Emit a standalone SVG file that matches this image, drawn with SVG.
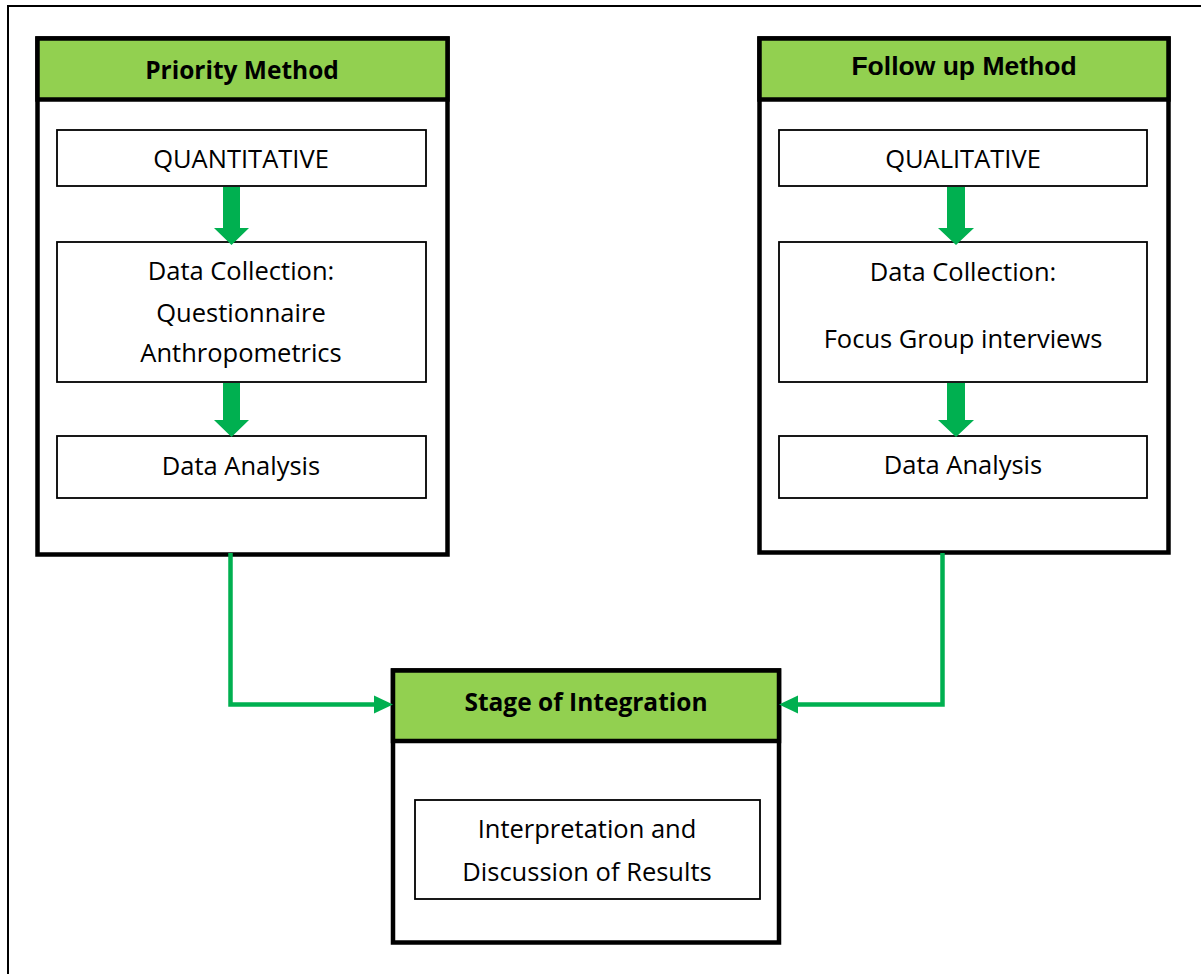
<svg xmlns="http://www.w3.org/2000/svg" width="1201" height="974" viewBox="0 0 1201 974">
<style>
.frame{fill:none;stroke:#000;stroke-width:2}
.box{fill:#fff;stroke:#000;stroke-width:4.5}
.hdr{fill:#92d050;stroke:#000;stroke-width:4.5}
.inner{fill:#fff;stroke:#000;stroke-width:1.8}
.t{font-family:"Open Sans",Lato,"Liberation Sans",sans-serif;font-size:25.5px;fill:#000;text-anchor:middle}
.tb{font-family:"Open Sans",Lato,"Liberation Sans",sans-serif;font-size:24.5px;font-weight:bold;fill:#000;text-anchor:middle}
.ta{font-family:"Liberation Sans",Arial,sans-serif;font-size:26.5px;font-weight:bold;fill:#000;text-anchor:middle}
.blk{fill:#00b050}
.conn{fill:none;stroke:#00b050;stroke-width:4.5}
</style>
<path class="frame" d="M8,974 V6 H1201"/>

<g id="priority">
<rect class="box" x="37.5" y="38.5" width="410" height="516"/>
<rect class="hdr" x="37.5" y="38.5" width="410" height="61"/>
<text class="tb" x="242" y="79">Priority Method</text>
<rect class="inner" x="57" y="130" width="369" height="56"/>
<text class="t" x="241" y="168">QUANTITATIVE</text>
<rect class="inner" x="57" y="242" width="369" height="140"/>
<text class="t" x="241" y="280">Data Collection:</text>
<text class="t" x="241" y="322">Questionnaire</text>
<text class="t" x="241" y="362">Anthropometrics</text>
<rect class="inner" x="57" y="436" width="369" height="62"/>
<text class="t" x="241" y="475">Data Analysis</text>
<path class="blk" d="M223,187 H240 V228 H249 L231.5,245 L214,228 H223 z"/>
<path class="blk" d="M223,383 H240 V420 H249 L231.5,437 L214,420 H223 z"/>
</g>

<g id="followup">
<rect class="box" x="759.5" y="38.5" width="409" height="514"/>
<rect class="hdr" x="759.5" y="38.5" width="409" height="61"/>
<text class="ta" x="964" y="75">Follow up Method</text>
<rect class="inner" x="779" y="130" width="368" height="56"/>
<text class="t" x="963" y="168">QUALITATIVE</text>
<rect class="inner" x="779" y="242" width="368" height="140"/>
<text class="t" x="963" y="281">Data Collection:</text>
<text class="t" x="963" y="348">Focus Group interviews</text>
<rect class="inner" x="779" y="436" width="368" height="62"/>
<text class="t" x="963" y="474">Data Analysis</text>
<path class="blk" d="M947,187 H965 V228 H974 L956,245 L938,228 H947 z"/>
<path class="blk" d="M947,383 H965 V420 H974 L956,437 L938,420 H947 z"/>
</g>

<g id="integration">
<rect class="box" x="393" y="670.5" width="386" height="272"/>
<rect class="hdr" x="393" y="670.5" width="386" height="70.5"/>
<text class="tb" x="586" y="711">Stage of Integration</text>
<rect class="inner" x="415" y="800" width="345" height="99"/>
<text class="t" x="587" y="838">Interpretation and</text>
<text class="t" x="587" y="881">Discussion of Results</text>
</g>

<g id="connectors">
<path class="conn" d="M230.5,553 V704.5 H376"/>
<path class="blk" d="M374,695.5 L393,704.5 L374,713.5 z"/>
<path class="conn" d="M942.5,553 V704.5 H796"/>
<path class="blk" d="M798,695.5 L779,704.5 L798,713.5 z"/>
</g>
</svg>
